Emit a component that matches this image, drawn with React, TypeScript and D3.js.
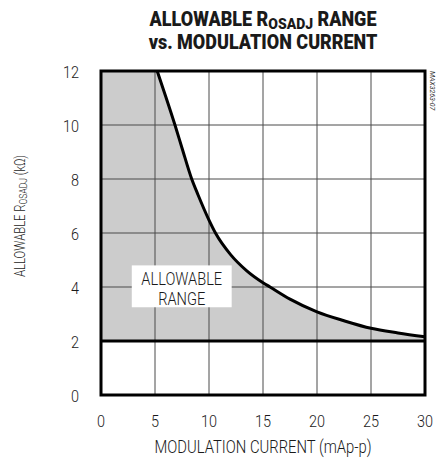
import React from "react";
import * as d3 from "d3";

// curve: max allowable R (kOhm) vs modulation current (mAp-p)
const currents: number[] = [5.2, 6, 6.85, 7.5, 8.4, 9, 10, 10.6, 12, 13.5, 15, 15.65, 17.5, 20, 22.5, 25, 27.5, 30];
const resistances: number[] = [12, 11.05, 10, 9.15, 8, 7.4, 6.48, 6, 5.2, 4.6, 4.16, 4, 3.55, 3.08, 2.75, 2.47, 2.3, 2.16];
const xTicks: number[] = [0, 5, 10, 15, 20, 25, 30];
const yTicks: number[] = [0, 2, 4, 6, 8, 10, 12];
const minResistance = 2;

const font = "Roboto, 'Liberation Sans', sans-serif";

// condensed-looking text: squeeze horizontally around the anchor point
const Narrow: React.FC<{ x: number; y: number; sx: number; size: number; anchor?: string; weight?: string | number; rotate?: number; children: React.ReactNode }> =
    ({ x, y, sx, size, anchor = "middle", weight = 300, rotate = 0, children }) => (
        <text
            transform={`translate(${x},${y}) rotate(${rotate}) scale(${sx},1)`}
            fontFamily={font}
            fontSize={size}
            fontWeight={weight}
            textAnchor={anchor}
            fill="#1a1a1a"
        >
            {children}
        </text>
    );

const App: React.FC = () => {
    const width = 436;
    const height = 458;
    const marginLeft = 101;
    const marginRight = 11;
    const marginTop = 71;
    const marginBottom = 63;

    const x = d3.scaleLinear().domain([0, 30]).range([marginLeft, width - marginRight]);
    const y = d3.scaleLinear().domain([0, 12]).range([height - marginBottom, marginTop]);

    const pts: [number, number][] = currents.map((c, i) => [c, resistances[i]]);

    const line = d3.line<[number, number]>()
        .x(d => x(d[0]))
        .y(d => y(d[1]))
        .curve(d3.curveMonotoneX);

    // shaded region: from 0 up to the curve, above the 2k floor
    const areaPts: [number, number][] = [[0, 12], ...pts];
    const area = d3.area<[number, number]>()
        .x(d => x(d[0]))
        .y0(y(minResistance))
        .y1(d => y(d[1]))
        .curve(d3.curveMonotoneX);

    const cx = (x(0) + x(30)) / 2;
    const boxL = x(2.85), boxR = x(12.1), boxT = y(4.8), boxB = y(3.25);

    return (
        <svg width={width} height={height} style={{ position: "absolute", left: 0, top: 0 }}>
            <rect width={width} height={height} fill="white" />
            {/* Title */}
            <Narrow x={cx} y={26} sx={0.9} size={20} weight={900}>
                ALLOWABLE R<tspan fontSize={15.5} dy={3}>OSADJ</tspan><tspan dy={-3}> RANGE</tspan>
            </Narrow>
            <Narrow x={cx} y={49} sx={0.9} size={20} weight={900}>vs. MODULATION CURRENT</Narrow>

            {/* Shaded area */}
            <path d={area(areaPts) ?? ""} fill="#cccccc" />

            {/* Grid */}
            <g stroke="#4a4a4a" strokeWidth={1}>
                {xTicks.slice(1, -1).map(t => (
                    <line key={`gx${t}`} x1={x(t)} x2={x(t)} y1={y(12)} y2={y(0)} />
                ))}
                {yTicks.slice(1, -1).map(t => (
                    <line key={`gy${t}`} x1={x(0)} x2={x(30)} y1={y(t)} y2={y(t)} />
                ))}
            </g>

            {/* Floor line */}
            <line x1={x(0)} x2={x(30)} y1={y(minResistance)} y2={y(minResistance)} stroke="#000" strokeWidth={3} />

            {/* Curve */}
            <path d={line(pts) ?? ""} fill="none" stroke="#000" strokeWidth={3} />

            {/* Frame */}
            <rect x={x(0)} y={y(12)} width={x(30) - x(0)} height={y(0) - y(12)} fill="none" stroke="#000" strokeWidth={3} />

            {/* Label box */}
            <rect x={boxL} y={boxT} width={boxR - boxL} height={boxB - boxT} fill="white" />
            <Narrow x={(boxL + boxR) / 2} y={285} sx={0.79} size={18.5}>ALLOWABLE</Narrow>
            <Narrow x={(boxL + boxR) / 2} y={304.5} sx={0.79} size={18.5}>RANGE</Narrow>

            {/* Y ticks */}
            {yTicks.map(t => (
                <Narrow key={`yt${t}`} x={79} y={y(t) + 7} sx={0.85} size={17} anchor="end">{t}</Narrow>
            ))}
            {/* X ticks */}
            {xTicks.map(t => (
                <Narrow key={`xt${t}`} x={x(t)} y={427} sx={0.85} size={17}>{t}</Narrow>
            ))}

            {/* Axis titles */}
            <Narrow x={cx} y={453} sx={0.8} size={18.5}>MODULATION CURRENT (mAp-p)</Narrow>
            <Narrow x={25} y={216} sx={0.78} size={14.5} rotate={-90}>
                ALLOWABLE R<tspan fontSize={11} dy={2}>OSADJ</tspan><tspan dy={-2}> (kΩ)</tspan>
            </Narrow>

            {/* Figure code */}
            <text transform={`translate(430,71) rotate(90)`} fontFamily={font} fontSize={7} fontStyle="italic" fill="#333">
                MAX3263-07
            </text>
        </svg>
    );
};

export default App;
